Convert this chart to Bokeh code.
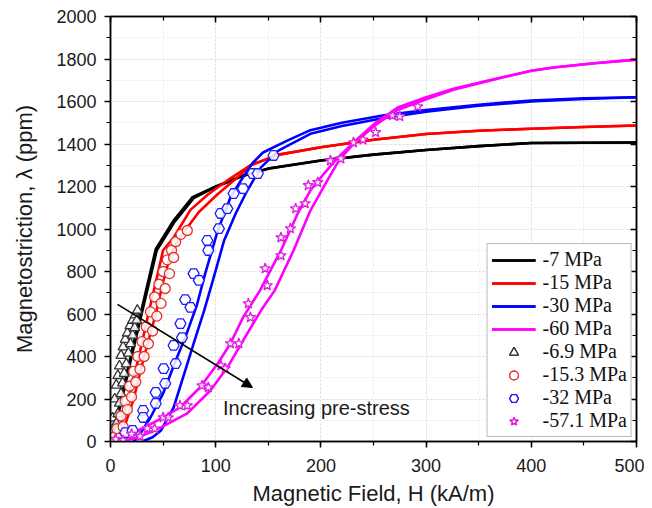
from bokeh.plotting import figure
from bokeh.models import (LinearAxis, SingleIntervalTicker, Legend, LegendItem,
                          Arrow, NormalHead, Range1d, CustomJSTickFormatter)
from bokeh.core.properties import value
from bokeh.embed import file_html
from bokeh.resources import INLINE

# ---------------- data (H in kA/m, lambda in ppm) ----------------
# model curves (two hysteresis branches each)
h_7a = [0, 10, 20, 30, 43, 60, 78, 100, 125, 150, 200, 250, 300, 350, 400, 450, 500]
l_7a = [0, 200, 420, 630, 905, 1040, 1150, 1200, 1250, 1285, 1322, 1350, 1372, 1390, 1405, 1406, 1407]
h_7b = [1, 11, 21, 31, 44, 61, 79, 100, 125, 150, 200, 250, 300, 350, 400, 450, 500]
l_7b = [0, 200, 420, 630, 900, 1035, 1145, 1198, 1248, 1284, 1322, 1350, 1372, 1390, 1405, 1406, 1407]

h_15a = [3, 10, 17, 27, 36, 44, 50, 60, 76, 92, 110, 133, 160, 200, 250, 300, 350, 400, 450, 500]
l_15a = [0, 80, 200, 400, 600, 770, 900, 960, 1090, 1160, 1225, 1300, 1350, 1385, 1420, 1447, 1462, 1472, 1480, 1487]
h_15b = [6, 14, 22, 32, 43, 50, 57, 66, 84, 102, 120, 133, 160, 200, 250, 300, 350, 400, 450, 500]
l_15b = [0, 80, 200, 400, 600, 750, 880, 960, 1080, 1165, 1240, 1300, 1350, 1385, 1420, 1447, 1462, 1472, 1480, 1487]

h_30a = [22, 30, 38, 50, 62, 71, 82, 90, 102, 114, 124, 135, 145, 168, 190, 220, 260, 300, 350, 400, 450, 500]
l_30a = [0, 50, 113, 226, 381, 489, 640, 790, 993, 1148, 1228, 1310, 1360, 1416, 1465, 1500, 1535, 1560, 1585, 1605, 1615, 1620]
h_30b = [30, 40, 48, 60, 71, 79, 89, 98, 108, 119, 130, 143, 160, 190, 220, 260, 300, 350, 400, 450, 500]
l_30b = [0, 20, 52, 160, 334, 461, 616, 770, 946, 1073, 1181, 1290, 1370, 1448, 1485, 1522, 1552, 1580, 1600, 1612, 1620]

h_60a = [2, 15, 32, 48, 66, 85, 102, 114, 126, 142, 162, 178, 190, 203, 215, 231, 252, 273, 300, 326, 360, 400, 421, 460, 500]
l_60a = [0, 25, 66, 108, 160, 254, 367, 461, 584, 710, 899, 1073, 1181, 1261, 1330, 1407, 1500, 1572, 1620, 1660, 1700, 1745, 1760, 1780, 1797]
h_60b = [10, 26, 48, 73, 95, 111, 126, 143, 156, 174, 190, 206, 218, 231, 252, 273, 300, 326, 360, 400, 421, 460, 500]
l_60b = [0, 19, 66, 132, 240, 348, 475, 616, 710, 899, 1087, 1228, 1330, 1400, 1490, 1560, 1610, 1655, 1698, 1745, 1760, 1780, 1797]

# measurements (two branches each)
h_69a = [1, 2, 4, 5.5, 7, 8.5, 10, 12, 14, 16, 18.5, 21, 23.5, 25.5]
l_69a = [40, 110, 200, 265, 310, 355, 405, 445, 480, 510, 545, 570, 595, 617]
h_69b = [5.5, 7, 8.5, 10, 11.5, 13, 15, 17, 19, 21, 23, 25]
l_69b = [85, 130, 180, 225, 275, 320, 365, 415, 460, 500, 535, 570]

h_153a = [3, 6, 10, 14, 18, 22, 26, 30, 34, 38, 42, 46, 50, 54, 58, 62, 67, 73]
l_153a = [20, 60, 120, 190, 260, 330, 400, 470, 540, 610, 680, 740, 800, 855, 900, 940, 975, 993]
h_153b = [8, 12, 16, 20, 24, 28, 32, 36, 40, 44, 48, 52, 56, 60]
l_153b = [15, 70, 150, 210, 280, 340, 400, 460, 520, 590, 650, 720, 790, 866]

h_32a = [14, 31, 43, 50.5, 60, 66.5, 71, 79, 92, 104.6, 111, 117, 126, 135, 155]
l_32a = [42, 146, 231, 343, 452, 555, 668, 790, 946, 1073, 1096, 1167, 1190, 1261, 1346]
h_32b = [21, 31, 43, 52, 62, 68, 76, 84, 93, 103, 140]
l_32b = [52, 113, 179, 273, 367, 489, 631, 758, 899, 1002, 1261]

h_571a = [5, 20, 35, 50, 66, 87, 105, 114, 131, 147, 162, 176, 188, 209, 231, 252, 268]
l_571a = [10, 35, 61, 113, 169, 263, 357, 461, 649, 814, 960, 1096, 1205, 1322, 1407, 1455, 1534]
h_571b = [12, 28, 42, 55, 73, 93, 109, 122, 133, 149, 162, 171, 185, 197, 219, 240, 275, 292]
l_571b = [5, 25, 60, 113, 169, 254, 343, 461, 584, 734, 875, 1002, 1120, 1219, 1331, 1420, 1530, 1576]

line_labels = ["-7 MPa", "-15 MPa", "-30 MPa", "-60 MPa"]
marker_labels = ["-6.9 MPa", "-15.3 MPa", "-32 MPa", "-57.1 MPa"]

# ---------------- figure ----------------
SANS = "Liberation Sans"
SERIF = "Liberation Serif"

p = figure(width=644, height=508, x_range=Range1d(0, 500), y_range=Range1d(0, 2000),
           output_backend="svg", toolbar_location=None,
           min_border_left=110, min_border_right=8, min_border_top=16, min_border_bottom=67)
p.outline_line_color = "black"
p.outline_line_width = 1.5
p.background_fill_color = "white"
p.border_fill_color = "white"

p.xaxis.ticker = SingleIntervalTicker(interval=100, num_minor_ticks=2)
p.yaxis.ticker = SingleIntervalTicker(interval=200, num_minor_ticks=2)

for ax in (p.xaxis[0], p.yaxis[0]):
    ax.axis_line_width = 1.5
    ax.major_tick_line_width = 1.5
    ax.minor_tick_line_width = 1.2
    ax.major_tick_out = 6
    ax.major_tick_in = 0
    ax.minor_tick_out = 4
    ax.minor_tick_in = 0
    ax.major_label_text_font = SANS
    ax.major_label_text_font_size = "18px"
    ax.major_label_text_color = "#1a1a1a"
    ax.axis_label_text_font = SANS
    ax.axis_label_text_font_size = "22px"
    ax.axis_label_text_font_style = "normal"
    ax.axis_label_text_color = "#1a1a1a"

p.xaxis.axis_label = "Magnetic Field, H (kA/m)"
p.yaxis.axis_label = "Magnetostriction, \u03bb (ppm)"
p.xaxis.major_label_standoff = 11
p.xaxis.axis_label_standoff = 6
p.yaxis.major_label_standoff = 8
p.yaxis.axis_label_standoff = 16

blank = CustomJSTickFormatter(code="return '';")
top = LinearAxis(ticker=SingleIntervalTicker(interval=100, num_minor_ticks=2), formatter=blank)
right = LinearAxis(ticker=SingleIntervalTicker(interval=200, num_minor_ticks=2), formatter=blank)
for ax in (top, right):
    ax.major_label_standoff = 0
    ax.axis_line_width = 1.5
    ax.major_tick_line_width = 1.5
    ax.minor_tick_line_width = 1.2
    ax.major_tick_in = 6
    ax.major_tick_out = 0
    ax.minor_tick_in = 4
    ax.minor_tick_out = 0
p.add_layout(top, "above")
p.add_layout(right, "right")

for g in (p.xgrid[0], p.ygrid[0]):
    g.grid_line_color = "#dcdcdc"
    g.grid_line_dash = "2 2"
    g.grid_line_width = 1
    g.minor_grid_line_color = "#e8e8e8"
    g.minor_grid_line_dash = "2 2"
    g.minor_grid_line_width = 1

# ---------------- lines ----------------
LW = 2.6
colors = ["#000000", "#ff0000", "#0000ff", "#ff00ff"]
line_sets = [(h_7a, l_7a, h_7b, l_7b), (h_15a, l_15a, h_15b, l_15b),
             (h_30a, l_30a, h_30b, l_30b), (h_60a, l_60a, h_60b, l_60b)]
line_items = []
for (ha, la, hb, lb), c, lab in zip(line_sets, colors, line_labels):
    r1 = p.line(ha, la, line_color=c, line_width=LW)
    r2 = p.line(hb, lb, line_color=c, line_width=LW)
    line_items.append(LegendItem(label=lab, renderers=[r1, r2]))

# ---------------- markers ----------------
mk_sets = [(h_69a, l_69a, h_69b, l_69b, "triangle", "#333333", 10),
           (h_153a, l_153a, h_153b, l_153b, "circle", "#e0302a", 10),
           (h_32a, l_32a, h_32b, l_32b, "hex", "#1a1aff", 11),
           (h_571a, l_571a, h_571b, l_571b, "star", "#e020e0", 11)]
mk_items = []
for (ha, la, hb, lb, m, c, s), lab in zip(mk_sets, marker_labels):
    r1 = p.scatter(ha, la, marker=m, size=s, line_color=c, line_width=1.3,
                   fill_color="white", fill_alpha=0.85)
    r2 = p.scatter(hb, lb, marker=m, size=s, line_color=c, line_width=1.3,
                   fill_color="white", fill_alpha=0.85)
    mk_items.append(LegendItem(label=lab, renderers=[r1, r2]))

# ---------------- annotation ----------------
p.add_layout(Arrow(end=NormalHead(size=10, fill_color="black", line_color="black"),
                   x_start=6.7, y_start=645, x_end=135, y_end=254,
                   line_color="black", line_width=1.6))
p.text(x=[107], y=[160], text=["Increasing pre-stress"], text_font=value(SANS),
       text_font_size="20px", text_color="#1a1a1a", text_baseline="alphabetic",
       text_align="left")

legend = Legend(items=line_items + mk_items, location="bottom_right",
                margin=4, padding=4, spacing=0, glyph_width=44, glyph_height=22,
                label_height=22, label_standoff=7,
                label_text_font=SERIF, label_text_font_size="20px",
                label_text_color="#111111",
                border_line_color="#777777", border_line_width=1,
                background_fill_color="white", background_fill_alpha=1)
p.add_layout(legend, "center")

open("out.html", "w").write(file_html(p, INLINE))
